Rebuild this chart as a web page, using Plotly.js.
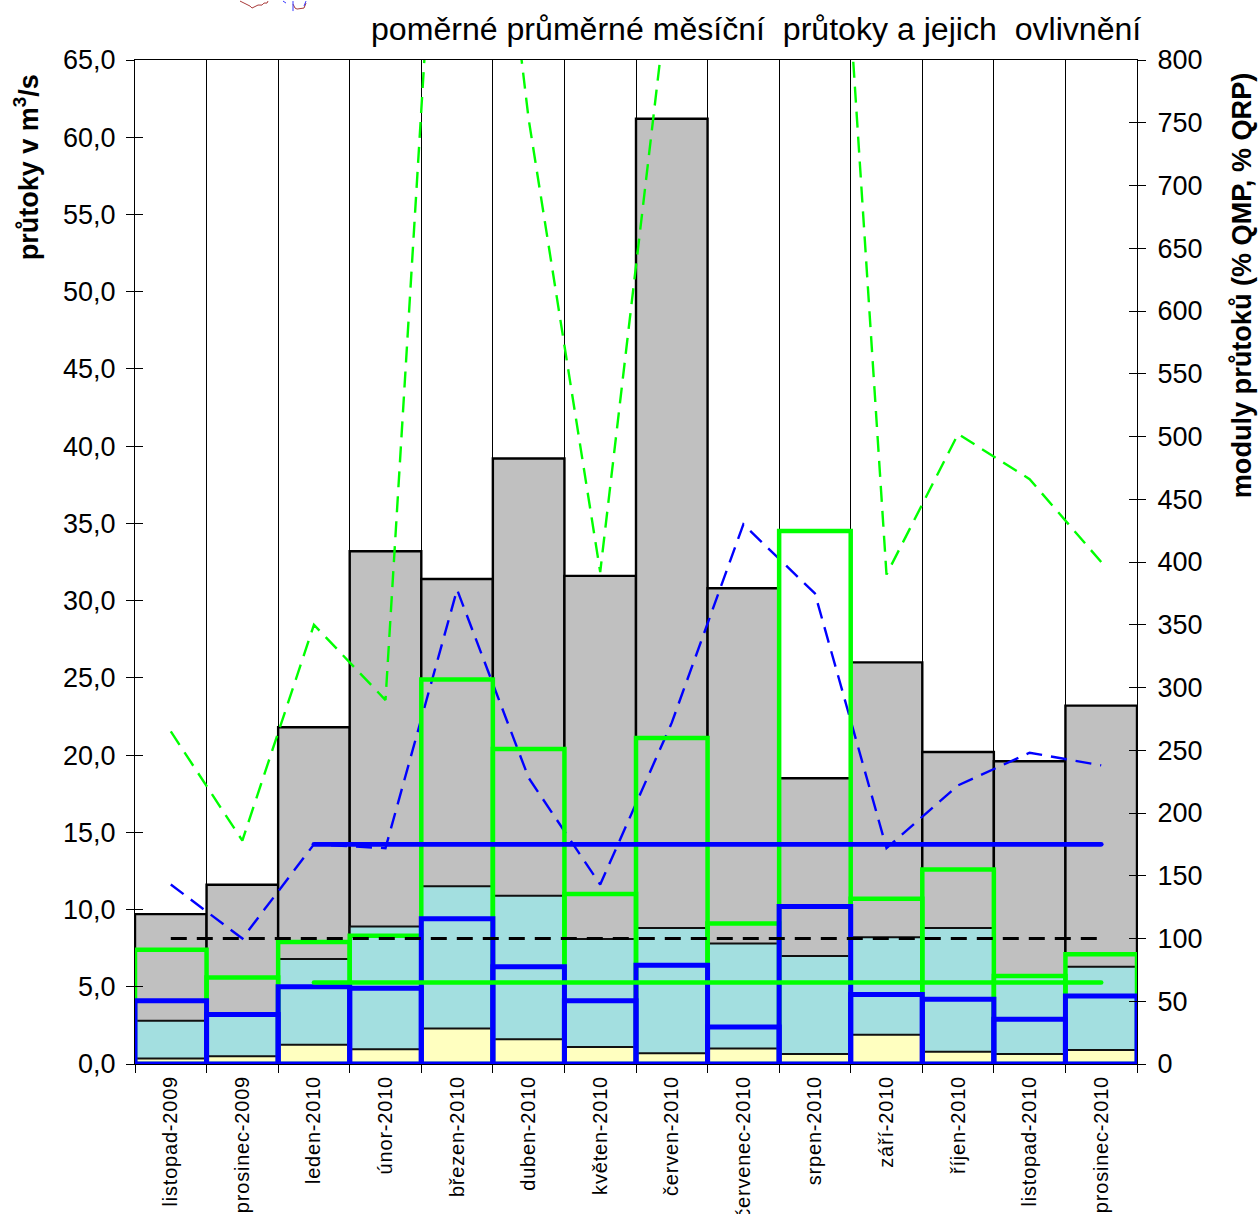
<!DOCTYPE html>
<html><head><meta charset="utf-8">
<script src="https://cdn.plot.ly/plotly-3.0.1.min.js"></script>
<style>html,body{margin:0;padding:0;background:#fff}
.xtick text{letter-spacing:0.8px}
.xy4 .scatterlayer .trace:nth-child(n+2) .js-line{stroke-linecap:round}</style></head>
<body><div id="c" style="width:1259px;height:1214px"></div>
<script>
const categories=['listopad-2009','prosinec-2009','leden-2010','únor-2010','březen-2010','duben-2010','květen-2010','červen-2010','červenec-2010','srpen-2010','září-2010','říjen-2010','listopad-2010','prosinec-2010'];
const flowTotal=[9.7,11.6,21.8,33.2,31.4,39.2,31.6,61.2,30.8,18.5,26.0,20.2,19.6,23.2];
const flowMiddle=[2.8,3.2,6.8,8.9,11.5,10.9,8.1,8.8,7.8,7.0,8.2,8.8,5.7,6.3];
const flowLow=[0.35,0.5,1.25,0.95,2.3,1.6,1.1,0.7,1.0,0.65,1.9,0.8,0.65,0.9];
const greenFlow=[7.4,5.6,7.9,8.3,24.9,20.4,11.0,21.1,9.1,34.5,10.7,12.6,5.7,7.1];
const blueFlow=[4.1,3.2,5.0,4.9,9.4,6.3,4.1,6.4,2.4,10.2,4.5,4.2,2.9,4.4];
const greenModule=[265,178,350,290,1230,753,392,880,1050,1270,390,502,466,400];
const blueModule=[143,100,175,172,378,228,143,272,430,375,172,222,248,238];
const level100=[100,100,100,100,100,100,100,100,100,100,100,100,100,100];
const greenLevel=[null,null,65,65,65,65,65,65,65,65,65,65,65,65];
const blueLevel=[null,null,175,175,175,175,175,175,175,175,175,175,175,175];
const leftTicks=[0,5,10,15,20,25,30,35,40,45,50,55,60,65];
const rightTicks=[0,50,100,150,200,250,300,350,400,450,500,550,600,650,700,750,800];
const titleText='poměrné průměrné měsíční  průtoky a jejich  ovlivnění';
const leftTitle='průtoky v m<sup>3</sup>/s';
const rightTitle='moduly průtoků (% QMP, % QRP)';
// fragment of a small map cut off by the top edge (page pixels)
const mapRed=[[[240,0],[250,5],[252,7],[258,4],[262,4],[264,2],[267,2],[268,0]],[[293,3],[295,7],[297,8],[304,7],[306,2]]];
const mapBlue=[[[283,0],[286,2]],[[293,0],[293,10]],[[304,5],[306,0]]];
const F='"Liberation Sans",Arial,sans-serif';
const bar=(y,fill,lc,lw,ya)=>({type:'bar',x:categories,y:y,width:1,yaxis:ya,marker:{color:fill,line:{color:lc,width:lw}},hoverinfo:'skip',showlegend:false});
const line=(y,c,w,dash,ya)=>({type:'scatter',mode:'lines',x:categories,y:y,yaxis:ya,line:{color:c,width:w,dash:dash,shape:'linear'},connectgaps:false,hoverinfo:'skip',showlegend:false});
const traces=[
 bar(flowTotal,'#c0c0c0','#000',2.4,'y'),
 bar(flowMiddle,'#a3dfe0','#111',2,'y'),
 bar(flowLow,'#ffffc0','#111',2,'y'),
 bar(greenFlow,'rgba(0,0,0,0)','#00ff00',4.5,'y3'),
 bar(blueFlow,'rgba(0,0,0,0)','#0000ff',5,'y3'),
 line(greenModule,'#00ff00',2.4,'16px,9px','y2'),
 line(blueModule,'#0000ff',2.4,'16px,9px','y2'),
 line(level100,'#000',3,'16px,10px','y4'),
 line(greenLevel,'#00ff00',4.5,'solid','y4'),
 line(blueLevel,'#0000ff',4.8,'solid','y4')
];
const axisFont={family:F,size:27,color:'#000'};
const toPath=p=>'M'+p.map(q=>((q[0]-135)/1002)+','+(1+(59-q[1])/1005)).join('L');
const mapShapes=mapRed.map(p=>({type:'path',xref:'paper',yref:'paper',path:toPath(p),line:{color:'#a83a3a',width:1}}))
 .concat(mapBlue.map(p=>({type:'path',xref:'paper',yref:'paper',path:toPath(p),line:{color:'#3a3aff',width:1}})));
const layout={
 width:1259,height:1214,margin:{l:135,r:122,t:59.5,b:149.5,pad:0},
 paper_bgcolor:'#fff',plot_bgcolor:'#fff',barmode:'overlay',separators:', ',showlegend:false,font:{family:F,color:'#000'},
 shapes:mapShapes,
 xaxis:{type:'category',categoryorder:'array',categoryarray:categories,range:[-0.5,13.5],tickson:'boundaries',ticks:'outside',ticklen:8,tickcolor:'#000',tickwidth:1,ticklabelstandoff:3,
   showgrid:true,gridcolor:'#000',gridwidth:1,showline:true,linecolor:'#000',linewidth:1,mirror:true,tickangle:-90,tickfont:{family:F,size:20,color:'#000'},automargin:false,layer:'below traces'},
 yaxis:{range:[0,65],tickvals:leftTicks,ticktext:leftTicks.map(v=>v.toFixed(1).replace('.',',')),ticks:'outside',ticklen:8,tickcolor:'#000',ticklabelstandoff:5,showgrid:false,showline:true,linecolor:'#000',linewidth:1,tickfont:axisFont,zeroline:false,automargin:false},
 yaxis2:{range:[0,800],overlaying:'y',side:'right',anchor:'x',tickvals:rightTicks,ticks:'outside',ticklen:8,tickcolor:'#000',ticklabelstandoff:6,showgrid:false,showline:true,linecolor:'#000',linewidth:1,tickfont:axisFont,zeroline:false,automargin:false},
 yaxis3:{range:[0,65],overlaying:'y',side:'left',anchor:'x',tickvals:leftTicks,ticks:'inside',ticklen:8,tickcolor:'#000',showticklabels:false,showgrid:false,zeroline:false},
 yaxis4:{range:[0,800],overlaying:'y',side:'right',anchor:'x',tickvals:rightTicks,ticks:'inside',ticklen:8,tickcolor:'#000',showticklabels:false,showgrid:false,zeroline:false},
 annotations:[
  {text:titleText,xref:'paper',yref:'paper',x:1.0055,y:1.0,yshift:11,xanchor:'right',yanchor:'bottom',showarrow:false,font:{family:F,size:32.1,color:'#000'}},
  {text:leftTitle,xref:'paper',yref:'paper',x:-0.1085,y:0.988,xanchor:'center',yanchor:'top',textangle:-90,showarrow:false,font:{family:F,size:27,color:'#000',weight:700}},
  {text:rightTitle,xref:'paper',yref:'paper',x:1.104,y:0.99,xanchor:'center',yanchor:'top',textangle:-90,showarrow:false,font:{family:F,size:27.1,color:'#000',weight:700}}
 ]
};
Plotly.newPlot('c',traces,layout,{displayModeBar:false,staticPlot:true});
</script></body></html>
